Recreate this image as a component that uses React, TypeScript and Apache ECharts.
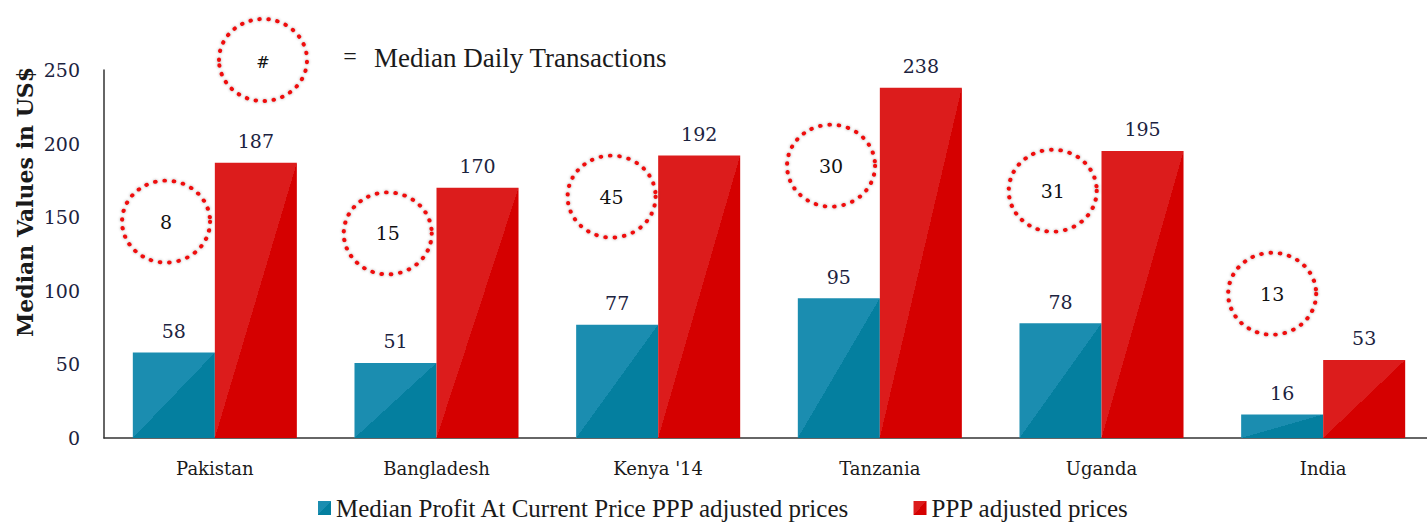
import React, { useEffect, useRef } from "react";
import * as echarts from "echarts";

const categories = ["Pakistan", "Bangladesh", "Kenya '14", "Tanzania", "Uganda", "India"];
const profitCurrent = [58, 51, 77, 95, 78, 16];
const pppAdjusted = [187, 170, 192, 238, 195, 53];
const dailyTransactions = [8, 15, 45, 30, 31, 13];
// bubble placement (category units on a hidden value axis, and y-values)
const bubbleX = [0.28, 1.28, 2.29, 3.28, 4.28, 5.27];
const bubbleY = [147, 139, 164, 185, 168, 98];
const seriesNames = ["Median Profit At Current Price PPP adjusted prices", "PPP adjusted prices"];

const SERIF = "'DejaVu Serif', Georgia, serif";
const LEG = "'Liberation Serif', 'Times New Roman', serif";
const RED = "#ee1111";

const diag = (light: string, dark: string) =>
  new echarts.graphic.LinearGradient(0, 0, 1, 1, [
    { offset: 0, color: light },
    { offset: 0.5, color: light },
    { offset: 0.5, color: dark },
    { offset: 1, color: dark },
  ]);

export default function App() {
  const ref = useRef<HTMLDivElement>(null);
  useEffect(() => {
    if (!ref.current) return;
    const chart = echarts.init(ref.current, undefined, { renderer: "svg" });
    const dotStyle = {
      fill: "none",
      stroke: RED,
      lineWidth: 4,
      lineDash: [0.5, 8.5],
      lineCap: "round",
      shadowBlur: 3,
      shadowColor: "rgba(0,0,0,0.35)",
    };
    chart.setOption({
      animation: false,
      backgroundColor: "#ffffff",
      grid: { left: 104, width: 1330, top: 70, bottom: 87, containLabel: false, outerBoundsMode: "none" },
      legend: {
        data: seriesNames,
        left: 318,
        top: 494,
        padding: 0,
        itemGap: 63,
        itemWidth: 13,
        itemHeight: 14,
        icon: "rect",
        textStyle: { fontFamily: LEG, fontSize: 25, color: "#1a1a1a", lineHeight: 28 },
      },
      xAxis: [
        {
          type: "category",
          data: categories,
          axisLine: { show: true, lineStyle: { color: "#333", width: 1.5 } },
          axisTick: { show: false },
          axisLabel: { fontFamily: SERIF, fontSize: 18, color: "#1a1a1a", margin: 21 },
        },
        { type: "value", min: 0, max: 6, show: false },
      ],
      yAxis: {
        type: "value",
        min: 0,
        max: 250,
        interval: 50,
        axisLine: { show: true, lineStyle: { color: "#333", width: 1.5 } },
        axisTick: { show: false },
        splitLine: { show: false },
        axisLabel: { fontFamily: SERIF, fontSize: 19, color: "#1c2340", margin: 24 },
      },
      graphic: [
        {
          type: "text",
          x: 25,
          y: 202,
          rotation: Math.PI / 2,
          style: {
            text: "Median Values in US$",
            fontFamily: SERIF,
            fontWeight: "bold",
            fontSize: 22,
            fill: "#1a1a1a",
            textAlign: "center",
            textVerticalAlign: "middle",
          },
        },
        { type: "ellipse", shape: { cx: 263, cy: 60, rx: 44, ry: 41 }, style: dotStyle },
        {
          type: "text",
          x: 263,
          y: 62,
          style: { text: "#", fontFamily: SERIF, fontSize: 16, fill: "#111", textAlign: "center", textVerticalAlign: "middle" },
        },
        {
          type: "text",
          x: 350,
          y: 56,
          style: { text: "=", fontFamily: LEG, fontSize: 24, fill: "#1a1a1a", textAlign: "center", textVerticalAlign: "middle" },
        },
        {
          type: "text",
          x: 374,
          y: 58,
          style: { text: "Median Daily Transactions", fontFamily: LEG, fontSize: 27, fill: "#1a1a1a", textAlign: "left", textVerticalAlign: "middle" },
        },
      ],
      series: [
        {
          name: seriesNames[0],
          type: "bar",
          data: profitCurrent,
          barGap: "0%",
          barCategoryGap: "26%",
          itemStyle: { color: diag("#1b8db0", "#047f9f") },
          label: { show: true, position: "top", distance: 12, fontFamily: SERIF, fontSize: 19, color: "#1c2340" },
        },
        {
          name: seriesNames[1],
          type: "bar",
          data: pppAdjusted,
          barGap: "0%",
          barCategoryGap: "26%",
          itemStyle: { color: diag("#dc1c1c", "#d50000") },
          label: { show: true, position: "top", distance: 12, fontFamily: SERIF, fontSize: 19, color: "#1c2340" },
        },
        {
          name: "Median Daily Transactions",
          type: "scatter",
          xAxisIndex: 1,
          data: bubbleX.map((x, i) => [x, bubbleY[i], dailyTransactions[i]]),
          symbol: "circle",
          symbolSize: [88, 82],
          itemStyle: {
            color: "rgba(255,255,255,0)",
            borderColor: RED,
            borderWidth: 4,
            borderType: [0.5, 8.5],
            borderCap: "round",
            shadowBlur: 3,
            shadowColor: "rgba(0,0,0,0.35)",
            opacity: 1,
          },
          label: {
            show: true,
            position: "inside",
            formatter: (p: any) => String(p.data[2]),
            fontFamily: SERIF,
            fontSize: 19,
            color: "#111111",
          },
          z: 5,
        },
      ],
    });
    return () => chart.dispose();
  }, []);
  return <div ref={ref} style={{ position: "fixed", left: 0, top: 0, width: 1427, height: 525 }} />;
}
